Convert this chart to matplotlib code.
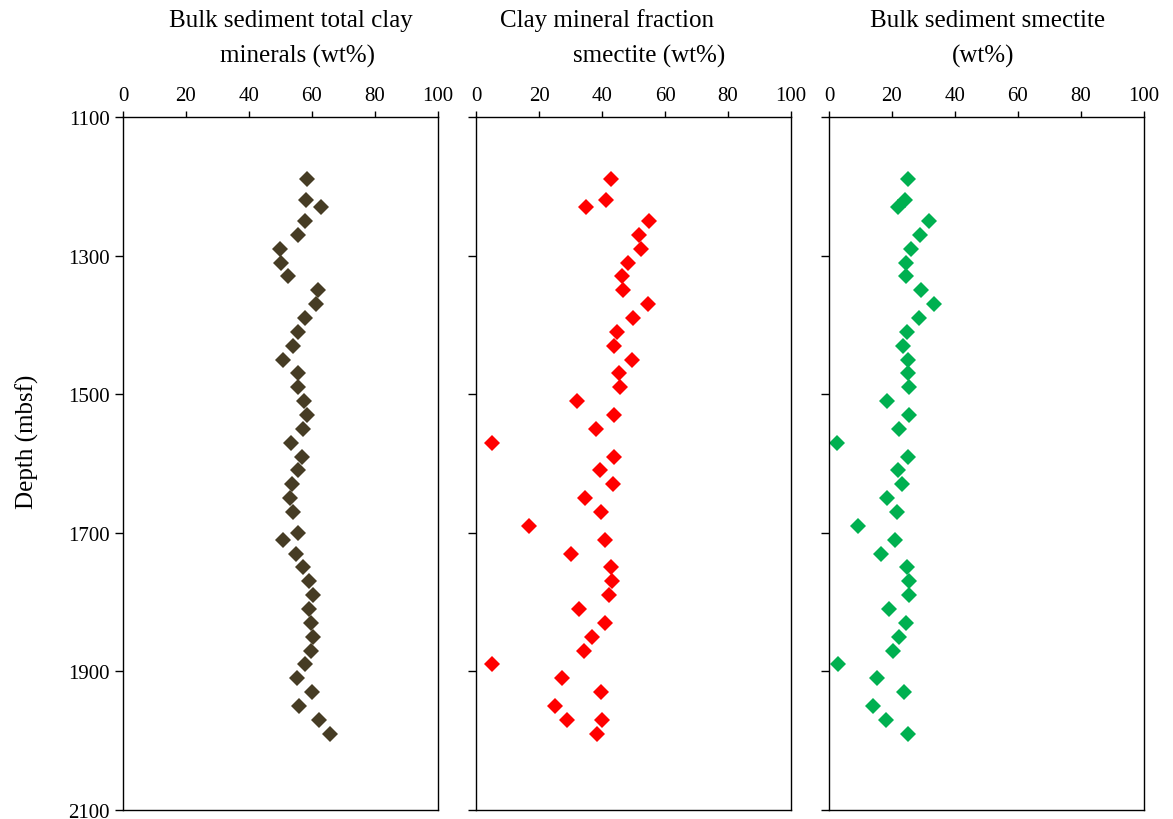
import matplotlib
matplotlib.use("Agg")
import matplotlib.pyplot as plt

plt.rcParams['font.family'] = ['Liberation Serif', 'DejaVu Serif']

# Bulk sediment total clay minerals (wt%)
depth_clay = [1190, 1220, 1230, 1250, 1270, 1290, 1310, 1330, 1350, 1370,
              1390, 1410, 1430, 1450, 1470, 1490, 1510, 1530, 1550, 1570,
              1590, 1610, 1630, 1650, 1670, 1700, 1710, 1730, 1750, 1770,
              1790, 1810, 1830, 1850, 1870, 1890, 1910, 1930, 1950, 1970, 1990]
total_clay = [58.5, 58.0, 62.8, 57.8, 55.7, 49.9, 50.1, 52.5, 62.0, 61.3,
              57.8, 55.7, 53.9, 50.7, 55.5, 55.7, 57.5, 58.3, 57.3, 53.3,
              56.8, 55.4, 53.6, 53.1, 53.9, 55.5, 50.9, 55.0, 57.1, 59.2,
              60.2, 58.9, 59.6, 60.2, 59.6, 57.9, 55.2, 60.1, 56.0, 62.1, 65.7]

# Clay mineral fraction smectite (wt%)
depth_frac = [1190, 1220, 1230, 1250, 1270, 1290, 1310, 1330, 1350, 1370,
              1390, 1410, 1430, 1450, 1470, 1490, 1510, 1530, 1550, 1570,
              1590, 1610, 1630, 1650, 1670, 1690, 1710, 1730, 1750, 1770,
              1790, 1810, 1830, 1850, 1870, 1890, 1910, 1930, 1950, 1970,
              1970, 1990]
smectite_frac = [43.0, 41.4, 34.9, 54.9, 51.9, 52.4, 48.3, 46.2, 46.7, 54.6,
                 49.8, 44.7, 43.7, 49.4, 45.3, 45.6, 32.2, 43.7, 38.0, 5.0,
                 43.9, 39.5, 43.6, 34.5, 39.8, 16.9, 40.8, 30.3, 43.0, 43.1,
                 42.3, 32.8, 40.8, 36.9, 34.3, 5.1, 27.4, 39.6, 25.0, 28.9,
                 40.1, 38.3]

# Bulk sediment smectite (wt%)
depth_bulk = [1190, 1220, 1230, 1250, 1270, 1290, 1310, 1330, 1350, 1370,
              1390, 1410, 1430, 1450, 1470, 1490, 1510, 1530, 1550, 1570,
              1590, 1610, 1630, 1650, 1670, 1690, 1710, 1730, 1750, 1770,
              1790, 1810, 1830, 1850, 1870, 1890, 1910, 1930, 1950, 1970, 1990]
bulk_smectite = [25.2, 24.1, 22.0, 31.7, 28.9, 26.0, 24.3, 24.3, 29.1, 33.4,
                 28.7, 24.9, 23.6, 25.2, 25.2, 25.5, 18.5, 25.5, 22.1, 2.6,
                 25.0, 21.8, 23.3, 18.3, 21.5, 9.3, 21.0, 16.4, 24.7, 25.5,
                 25.5, 19.1, 24.4, 22.2, 20.4, 2.9, 15.1, 23.8, 13.9, 18.0, 25.2]

x_ticks = [0, 20, 40, 60, 80, 100]
y_ticks = [1100, 1300, 1500, 1700, 1900, 2100]

W, H = 1173, 820
fig = plt.figure(figsize=(W / 100, H / 100), dpi=100)

panels = [
    (123, depth_clay, total_clay, '#463c24',
     [("Bulk sediment total clay", 291), ("minerals (wt%)", 297)]),
    (476, depth_frac, smectite_frac, '#ff0000',
     [("Clay mineral fraction", 607), ("smectite (wt%)", 649)]),
    (829, depth_bulk, bulk_smectite, '#00b050',
     [("Bulk sediment smectite", 988), ("(wt%)", 983)]),
]

ax_top, ax_bot, ax_w = 118, 811, 315
for i, (left, dep, vals, color, title_lines) in enumerate(panels):
    ax = fig.add_axes([left / W, 1 - ax_bot / H, ax_w / W, (ax_bot - ax_top) / H])
    ax.plot(vals, dep, linestyle='none', marker='D', markersize=8.5,
            color=color, markeredgewidth=0)
    ax.set_xlim(0, 100)
    ax.set_ylim(2100, 1100)
    ax.set_xticks(x_ticks)
    ax.set_yticks(y_ticks)
    ax.xaxis.tick_top()
    ax.tick_params(axis='x', direction='out', length=4.5, width=1.0,
                   labelsize=15, pad=4)
    ax.tick_params(axis='y', direction='out', length=5.5, width=1.0,
                   labelsize=15, pad=4)
    if i > 0:
        ax.tick_params(axis='y', labelleft=False)
    for sp in ax.spines.values():
        sp.set_linewidth(1.0)
    for (txt, xc), yc in zip(title_lines, (21, 56)):
        fig.text(xc / W, 1 - yc / H, txt, ha='center', va='center', fontsize=18)

fig.text(27 / W, 1 - 442 / H, "Depth (mbsf)", rotation=90, ha='center',
         va='center', fontsize=18)

fig.savefig("out.png", dpi=100)
